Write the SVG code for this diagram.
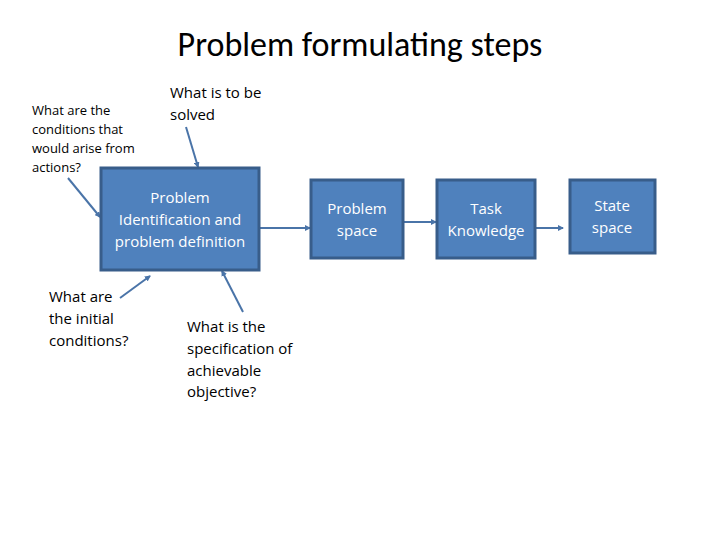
<svg xmlns="http://www.w3.org/2000/svg" width="720" height="540" viewBox="0 0 720 540">
<style>
.box{fill:#4f81bd;stroke:#385d8a;stroke-width:3}
.w{fill:#fff;font-family:"Open Sans","DejaVu Sans",sans-serif;font-size:15px;text-anchor:middle}
.k{fill:#000;font-family:"Open Sans","DejaVu Sans",sans-serif;font-size:15px}
.s{font-size:13px}
.c{stroke:#4a74a8;stroke-width:2;fill:none;marker-end:url(#a)}
</style>
<defs><marker id="a" viewBox="0 0 6 6" refX="5" refY="3" markerWidth="3" markerHeight="3" orient="auto"><path d="M0,0L6,3L0,6z" fill="#4a74a8"/></marker></defs>
<rect width="720" height="540" fill="#fff"/>
<text x="360" y="56" font-family="Calibri,'Carlito','Open Sans',sans-serif" font-size="34" text-anchor="middle">Problem formulating steps</text>
<g id="connectors">
<path class="c" d="M68,178L100,217"/>
<path class="c" d="M186,127L198,167"/>
<path class="c" d="M120,298L150,276"/>
<path class="c" d="M243,312L222,271"/>
<path class="c" d="M259,228L310,228"/>
<path class="c" d="M390,222L436,222"/>
<path class="c" d="M535,228L563,228"/>
</g>
<g id="main"><rect class="box" x="101" y="168" width="158" height="102"/>
<text class="w" x="180" y="203">Problem</text><text class="w" x="180" y="225">Identification and</text><text class="w" x="180" y="247">problem definition</text></g>
<g id="ps"><rect class="box" x="311" y="180" width="92" height="78"/>
<text class="w" x="357" y="214">Problem</text><text class="w" x="357" y="236">space</text></g>
<g id="tk"><rect class="box" x="437" y="180" width="98" height="78"/>
<text class="w" x="486" y="214">Task</text><text class="w" x="486" y="236">Knowledge</text></g>
<g id="ss"><rect class="box" x="570" y="180" width="85" height="73"/>
<text class="w" x="612" y="211">State</text><text class="w" x="612" y="233">space</text></g>
<g id="t1"><text class="k s" x="32" y="115">What are the</text><text class="k s" x="32" y="134">conditions that</text><text class="k s" x="32" y="153">would arise from</text><text class="k s" x="32" y="172">actions?</text></g>
<g id="t2"><text class="k" x="170" y="98">What is to be</text><text class="k" x="170" y="120">solved</text></g>
<g id="t3"><text class="k" x="49" y="302">What are</text><text class="k" x="49" y="324">the initial</text><text class="k" x="49" y="346">conditions?</text></g>
<g id="t4"><text class="k" x="187" y="332">What is the</text><text class="k" x="187" y="354">specification of</text><text class="k" x="187" y="376">achievable</text><text class="k" x="187" y="397">objective?</text></g>
</svg>
